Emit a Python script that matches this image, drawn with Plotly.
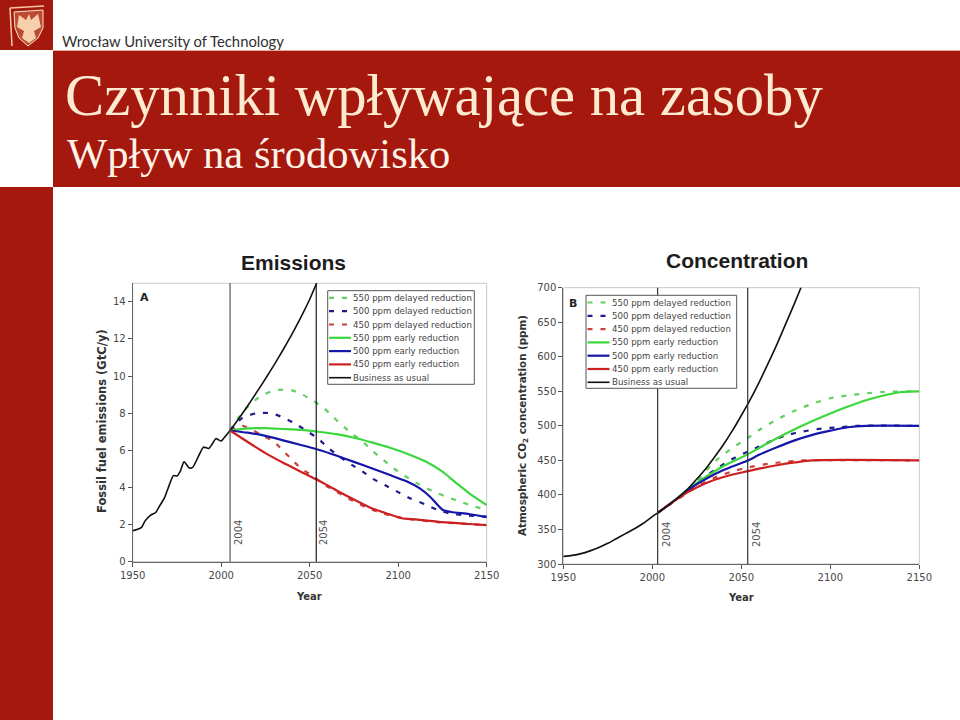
import plotly.graph_objects as go

W, H = 960, 720

# panel A - emissions (GtC/y)
hist_years_a = [1950, 1952, 1955, 1957, 1960, 1963, 1965, 1968, 1970, 1973, 1975, 1977, 1979, 1982, 1984,
                1987, 1990, 1993, 1995, 1997, 2000, 2002, 2005, 2010, 2015, 2020, 2025, 2030, 2035, 2040,
                2045, 2050, 2055]
hist_vals_a = [1.67, 1.72, 1.85, 2.2, 2.5, 2.65, 2.97, 3.45, 3.96, 4.64, 4.62, 4.9, 5.38, 5.05, 5.1,
               5.65, 6.17, 6.1, 6.35, 6.63, 6.5, 6.72, 7.07, 7.72, 8.4, 9.12, 9.86, 10.62, 11.42, 12.26,
               13.16, 14.14, 15.25]
green_dash_years_a = [2005, 2010, 2015, 2020, 2025, 2030, 2035, 2040, 2045, 2052, 2058, 2063, 2068, 2074, 2080,
                      2085, 2091, 2096, 2102, 2108, 2114, 2121, 2128, 2135, 2142, 2150]
green_dash_a = [7.07, 7.8, 8.35, 8.76, 9.05, 9.23, 9.27, 9.23, 9.05, 8.67, 8.28, 7.83, 7.37, 6.89, 6.47,
                6.0, 5.54, 5.13, 4.73, 4.37, 4.05, 3.74, 3.47, 3.24, 3.0, 2.8]
blue_dash_years_a = [2005, 2012, 2020, 2028, 2035, 2042, 2049, 2055, 2060, 2067, 2074, 2080, 2086, 2093, 2100,
                     2107, 2115, 2122, 2129, 2138, 2150]
blue_dash_a = [7.07, 7.75, 8.0, 8.0, 7.77, 7.43, 7.0, 6.62, 6.17, 5.65, 5.2, 4.85, 4.45, 4.1, 3.75,
               3.4, 3.1, 2.8, 2.6, 2.5, 2.43]
red_dash_years_a = [2005, 2012, 2022, 2030, 2035, 2040, 2045, 2052, 2058, 2065, 2071, 2077, 2083, 2090, 2097,
                    2103, 2120, 2150]
red_dash_a = [7.07, 7.32, 6.87, 6.45, 5.97, 5.5, 5.03, 4.6, 4.17, 3.78, 3.45, 3.15, 2.88, 2.64, 2.46,
              2.34, 2.15, 1.97]
green_years_a = [2005, 2015, 2025, 2035, 2045, 2055, 2065, 2075, 2085, 2095, 2105, 2115, 2125, 2132, 2140, 2150]
green_a = [7.07, 7.18, 7.2, 7.15, 7.1, 7.0, 6.87, 6.68, 6.43, 6.15, 5.82, 5.42, 4.85, 4.3, 3.7, 3.05]
blue_years_a = [2005, 2015, 2025, 2035, 2045, 2055, 2065, 2075, 2085, 2095, 2105, 2112, 2118, 2125, 2130, 2140, 2150]
blue_a = [7.07, 6.95, 6.78, 6.54, 6.29, 6.03, 5.72, 5.38, 5.03, 4.68, 4.32, 3.96, 3.5, 2.8, 2.68, 2.57, 2.4]
red_years_a = [2005, 2015, 2025, 2035, 2045, 2055, 2065, 2075, 2085, 2095, 2102, 2110, 2125, 2140, 2150]
red_a = [7.07, 6.45, 5.85, 5.33, 4.85, 4.37, 3.85, 3.35, 2.88, 2.55, 2.34, 2.28, 2.13, 2.03, 1.97]

# panel B - concentration (ppm)
hist_years_b = [1950, 1955, 1960, 1965, 1970, 1975, 1980, 1985, 1990, 1995, 2000, 2003, 2010, 2015, 2020, 2025, 2030,
                2035, 2040, 2045, 2050, 2055, 2060, 2065, 2070, 2075, 2080, 2087]
hist_vals_b = [311, 312.5, 315, 319, 324, 330, 337, 344, 351, 359, 368.5, 374, 387, 397, 409, 423, 438,
               455, 473, 493, 515, 538, 563, 590, 618, 648, 678, 722]
green_dash_years_b = [2003, 2015, 2025, 2035, 2045, 2054, 2060, 2070, 2080, 2090, 2100, 2110, 2120, 2130, 2150]
green_dash_b = [374, 397, 420, 448, 468, 483, 494, 509, 522, 532, 540, 544, 547, 549, 550]
blue_dash_years_b = [2003, 2015, 2025, 2035, 2045, 2054, 2060, 2065, 2075, 2085, 2095, 2105, 2115, 2150]
blue_dash_b = [374, 396, 417, 436, 452, 463, 470, 476, 486, 492, 496, 498, 500, 500]
red_dash_years_b = [2003, 2015, 2025, 2035, 2045, 2054, 2065, 2075, 2085, 2150]
red_dash_b = [374, 395, 412, 425, 434, 440, 445, 448, 450, 450]
green_years_b = [2003, 2010, 2020, 2030, 2040, 2053, 2060, 2070, 2080, 2090, 2100, 2110, 2120, 2130, 2140, 2150]
green_b = [374, 387, 408, 426, 442, 458, 468, 482, 495, 507, 518, 528, 537, 544, 549, 550]
blue_years_b = [2003, 2010, 2020, 2030, 2040, 2053, 2060, 2070, 2080, 2090, 2100, 2110, 2120, 2150]
blue_b = [374, 387, 407, 423, 436, 449, 458, 469, 479, 487, 493, 498, 500, 500]
red_years_b = [2003, 2010, 2020, 2030, 2040, 2053, 2060, 2070, 2080, 2090, 2150]
red_b = [374, 387, 404, 417, 426, 434, 438, 443, 447, 450, 450]

ticks_x = [1950, 2000, 2050, 2100, 2150]
ticks_y_a = [0, 2, 4, 6, 8, 10, 12, 14]
ticks_y_b = [300, 350, 400, 450, 500, 550, 600, 650, 700]
marker_year_labels = ["2004", "2054"]
marker_years_a = [2005, 2053.7]
marker_years_b = [2003, 2053.6]

labels = ["550 ppm delayed reduction", "500 ppm delayed reduction", "450 ppm delayed reduction",
          "550 ppm early reduction", "500 ppm early reduction", "450 ppm early reduction", "Business as usual"]

RED = "#a5180e"
GREEN_D, BLUE_D, RED_D = "#62cf62", "#1c1c8c", "#c9403c"
GREEN, BLUE, RED_L = "#3bd63b", "#1616a8", "#cc1f22"
styles = [
    dict(color=GREEN_D, width=2.2, dash="5px,8px"),
    dict(color=BLUE_D, width=2.2, dash="5px,8px"),
    dict(color=RED_D, width=2.2, dash="5px,8px"),
    dict(color=GREEN, width=2.2),
    dict(color=BLUE, width=2.2),
    dict(color=RED_L, width=2.2),
    dict(color="#111111", width=1.6),
]


def px(x):
    return x / W


def py(y):
    return 1 - y / H


fig = go.Figure()

series_a = [(green_dash_years_a, green_dash_a), (blue_dash_years_a, blue_dash_a), (red_dash_years_a, red_dash_a),
            (green_years_a, green_a), (blue_years_a, blue_a), (red_years_a, red_a), (hist_years_a, hist_vals_a)]
series_b = [(green_dash_years_b, green_dash_b), (blue_dash_years_b, blue_dash_b), (red_dash_years_b, red_dash_b),
            (green_years_b, green_b), (blue_years_b, blue_b), (red_years_b, red_b), (hist_years_b, hist_vals_b)]

for (xs, ys), name, style in zip(series_a, labels, styles):
    fig.add_trace(go.Scatter(x=xs, y=ys, mode="lines", name=name, line=dict(style, shape="spline", smoothing=0.6),
                             xaxis="x", yaxis="y", showlegend=False))
for (xs, ys), name, style in zip(series_b, labels, styles):
    fig.add_trace(go.Scatter(x=xs, y=ys, mode="lines", name=name, line=dict(style, shape="spline", smoothing=0.8),
                             xaxis="x2", yaxis="y2", showlegend=False))

axis_font = dict(family="DejaVu Sans", size=10, color="#484848")
axis_common = dict(showgrid=False, zeroline=False, showline=True, linecolor="#666666", linewidth=1,
                   ticks="outside", ticklen=4, tickcolor="#555555", tickfont=axis_font)
# page axes: one unit is one pixel of the slide, used for template, legends and labels
page_axis = dict(visible=False, fixedrange=True, domain=[0, 1], showgrid=False, zeroline=False)

fig.update_layout(
    width=W, height=H, margin=dict(l=0, r=0, t=0, b=0, pad=0, autoexpand=False),
    paper_bgcolor="white", plot_bgcolor="rgba(0,0,0,0)", showlegend=False,
    xaxis=dict(domain=[px(132.7), px(486.7)], range=[1950, 2150], tickvals=ticks_x, anchor="y", **axis_common),
    yaxis=dict(domain=[py(561.7), py(283.3)], range=[0, 15], tickvals=ticks_y_a, anchor="x", **axis_common),
    xaxis2=dict(domain=[px(563.3), px(919.3)], range=[1950, 2150], tickvals=ticks_x, anchor="y2", **axis_common),
    yaxis2=dict(domain=[py(564), py(287.7)], range=[300, 700], tickvals=ticks_y_b, anchor="x2", **axis_common),
    xaxis3=dict(range=[0, W], anchor="y3", **page_axis),
    yaxis3=dict(range=[H, 0], anchor="x3", **page_axis),
)

shapes = []
annotations = []


def text(x, y, s, size, color="#222222", family="DejaVu Sans", anchor="center", angle=0):
    annotations.append(dict(xref="x3", yref="y3", x=x, y=y, text=s, showarrow=False,
                            xanchor=anchor, yanchor="middle", textangle=angle, align="left",
                            font=dict(family=family, size=size, color=color)))


def rect(x0, y0, x1, y1, fill, line=None, layer="above"):
    shapes.append(dict(type="rect", xref="x3", yref="y3", x0=x0, y0=y0, x1=x1, y1=y1,
                       fillcolor=fill, line=dict(color=line or fill, width=1 if line else 0), layer=layer))


# slide template
rect(0, 0, 53, 50, RED)
rect(53, 51, 960, 187, RED)
rect(0, 187, 53, 720, RED)
rect(53, 50, 960, 51, "#e9a79c")
shield = [(14, 12), (43, 10), (43, 28), (38, 38), (28, 46), (19, 38), (15, 28)]
shield_path = "M " + " L ".join(f"{x},{y}" for x, y in shield) + " Z"
shapes.append(dict(type="path", xref="x3", yref="y3", path=shield_path, fillcolor="#bd4a33",
                   line=dict(color="#fbe3cc", width=1), layer="above"))
eagle = [(29, 14), (31, 20), (38, 14), (41, 27), (34, 31), (36, 38), (29, 43), (22, 38), (24, 31), (17, 27), (19, 15), (26, 20)]
eagle_path = "M " + " L ".join(f"{x},{y}" for x, y in eagle) + " Z"
shapes.append(dict(type="path", xref="x3", yref="y3", path=eagle_path, fillcolor="#f6cfac",
                   line=dict(color="#f6cfac", width=0), layer="above"))
shapes.append(dict(type="line", xref="x3", yref="y3", x0=10, y0=8, x1=12, y1=46,
                   line=dict(color="#f6c9a0", width=1.5), layer="above"))
shapes.append(dict(type="line", xref="x3", yref="y3", x0=10, y0=8, x1=44, y1=6,
                   line=dict(color="#f6c9a0", width=1.5), layer="above"))
text(60, 41, "Wrocław University of Technology", 14.8, "#303030", "Lato", "left")
text(63, 95, "Czynniki wpływające na zasoby", 58.7, "#fdeacf", "Liberation Serif", "left")
text(65, 153.5, "Wpływ na środowisko", 42.6, "#fdf3e6", "Liberation Serif", "left")

# frames, marker lines, legends
for xname, yname, marker_years, marker_colors, label_x, label_y in [
    ("x", "y", marker_years_a, ["#555555", "#1a1a1a"], [238, 323], 533),
    ("x2", "y2", marker_years_b, ["#333333", "#333333"], [666, 756], 535),
]:
    shapes.append(dict(type="rect", xref=xname + " domain", yref=yname + " domain", x0=0, y0=0, x1=1, y1=1,
                       line=dict(color="#c8c8c8", width=1), layer="below"))
    for year, color, lx, lab in zip(marker_years, marker_colors, label_x, marker_year_labels):
        shapes.append(dict(type="line", xref=xname, yref=yname + " domain", x0=year, x1=year, y0=0, y1=1,
                           line=dict(color=color, width=1.2), layer="above"))
        text(lx, label_y, lab, 10, "#555555", angle=-90)

for lx0, ly0, lx1, ly1, sw0 in [(327.7, 290.7, 474.3, 384.3, 329), (586, 295.3, 736.7, 388.3, 587.5)]:
    rect(lx0, ly0, lx1, ly1, "white", "#555555")
    for i, (name, style) in enumerate(zip(labels, styles)):
        yy = ly0 + 7.2 + i * 13.3
        shapes.append(dict(type="line", xref="x3", yref="y3", x0=sw0, y0=yy, x1=sw0 + 22, y1=yy,
                           line=style, layer="above"))
        text(sw0 + 22, yy, name, 8.6, "#444444", anchor="left")

text(293, 262, "<b>Emissions</b>", 21, "#1c1c1c", "Liberation Sans")
text(737, 260, "<b>Concentration</b>", 21, "#1c1c1c", "Liberation Sans")
text(144, 297, "<b>A</b>", 11, "#222222")
text(573, 303, "<b>B</b>", 11, "#222222")
text(102, 421, "<b>Fossil fuel emissions (GtC/y)</b>", 11.5, "#333333", angle=-90)
text(523, 426, "<b>Atmospheric CO<sub>2</sub> concentration (ppm)</b>", 10.3, "#333333", angle=-90)
text(309, 596, "<b>Year</b>", 10, "#333333")
text(741, 597, "<b>Year</b>", 10, "#333333")

fig.update_layout(shapes=shapes, annotations=annotations)
fig.write_html("out.html", config={"displayModeBar": False}, post_script="document.body.style.margin='0';")
